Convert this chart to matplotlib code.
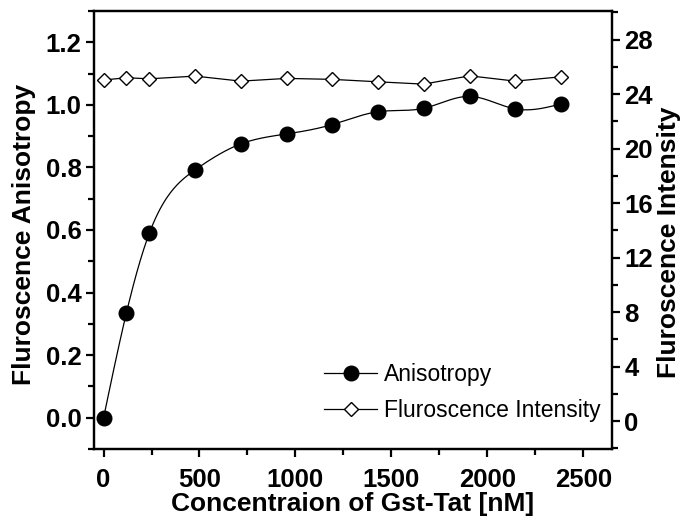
import numpy as np
import matplotlib
matplotlib.use("Agg")
import matplotlib.pyplot as plt
from matplotlib.ticker import MultipleLocator

# data
conc_nm = [0, 119, 238, 477, 715, 954, 1192, 1431, 1669, 1908, 2146, 2385]
anisotropy = [0.0, 0.335, 0.589, 0.792, 0.875, 0.907, 0.937, 0.978, 0.989, 1.027, 0.987, 1.003]
intensity = [25.03, 25.2, 25.12, 25.32, 24.95, 25.15, 25.08, 24.9, 24.73, 25.34, 24.95, 25.27]

X_TICKS = [0, 500, 1000, 1500, 2000, 2500]
LEFT_TICKS = [0.0, 0.2, 0.4, 0.6, 0.8, 1.0, 1.2]
RIGHT_TICKS = [0, 4, 8, 12, 16, 20, 24, 28]


def _natural_spline(x, y, n=400):
    """Smooth connecting line through the points (natural cubic spline)."""
    x = np.asarray(x, float)
    y = np.asarray(y, float)
    h = np.diff(x)
    m = len(x)
    A = np.zeros((m, m))
    b = np.zeros(m)
    A[0, 0] = A[-1, -1] = 1.0
    for i in range(1, m - 1):
        A[i, i - 1] = h[i - 1]
        A[i, i] = 2 * (h[i - 1] + h[i])
        A[i, i + 1] = h[i]
        b[i] = 6 * ((y[i + 1] - y[i]) / h[i] - (y[i] - y[i - 1]) / h[i - 1])
    M = np.linalg.solve(A, b)
    xs = np.linspace(x[0], x[-1], n)
    idx = np.clip(np.searchsorted(x, xs) - 1, 0, m - 2)
    x0, x1 = x[idx], x[idx + 1]
    hh = x1 - x0
    t0, t1 = x1 - xs, xs - x0
    ys = (M[idx] * t0**3 + M[idx + 1] * t1**3) / (6 * hh) \
        + (y[idx] / hh - M[idx] * hh / 6) * t0 \
        + (y[idx + 1] / hh - M[idx + 1] * hh / 6) * t1
    return xs, ys


plt.rcParams["font.family"] = ["Liberation Sans", "DejaVu Sans"]

fig = plt.figure(figsize=(6.83, 5.22), dpi=100)
ax = fig.add_axes([0.1376, 0.1398, 0.7584, 0.8392])
ax2 = ax.twinx()

xs, ys = _natural_spline(conc_nm, anisotropy)
ax.plot(xs, ys, color="black", lw=0.9, zorder=2)
ax.plot(conc_nm, anisotropy, ls="none", marker="o", ms=10.5, color="black", zorder=3)
h1, = ax.plot([], [], color="black", lw=0.9, marker="o", ms=10.5)

h2, = ax2.plot(conc_nm, intensity, color="black", lw=0.9, marker="D", ms=7.5,
               mfc="white", mec="black", mew=1.0)

ax.set_xlim(-50, 2650)
ax.set_ylim(-0.1, 1.3)
ax2.set_ylim(-2.05, 30.1)

ax.set_xticks(X_TICKS)
ax.set_yticks(LEFT_TICKS)
ax2.set_yticks(RIGHT_TICKS)
ax.set_yticklabels([f"{v:.1f}" for v in LEFT_TICKS])
ax.xaxis.set_minor_locator(MultipleLocator(250))
ax.yaxis.set_minor_locator(MultipleLocator(0.1))
ax2.yaxis.set_minor_locator(MultipleLocator(2))

for a in (ax, ax2):
    for sp in a.spines.values():
        sp.set_linewidth(1.6)
    a.tick_params(which="major", length=6, width=1.6, direction="out",
                  labelsize=18.5, pad=3)
    a.tick_params(which="minor", length=4, width=1.6, direction="out")
    for lbl in a.get_xticklabels() + a.get_yticklabels():
        lbl.set_fontweight("bold")
ax.tick_params(axis="y", which="both", right=False)
ax.tick_params(axis="x", pad=8)

ax.set_xlabel("Concentraion of Gst-Tat [nM]", fontsize=19, fontweight="bold")
ax.set_ylabel("Fluroscence Anisotropy", fontsize=19, fontweight="bold")
ax2.set_ylabel("Fluroscence Intensity", fontsize=19, fontweight="bold")
ax.xaxis.set_label_coords(0.5, -0.097)
ax.yaxis.set_label_coords(-0.112, 0.49)
ax2.yaxis.set_label_coords(1.087, 0.473)

ax2.legend([h1, h2], ["Anisotropy", "Fluroscence Intensity"], loc="lower right",
           bbox_to_anchor=(1.018, 0.014), frameon=False, fontsize=16.5,
           handlelength=2.3, handletextpad=0.3, labelspacing=0.58)

fig.savefig("out.png", dpi=100)
plt.close(fig)
